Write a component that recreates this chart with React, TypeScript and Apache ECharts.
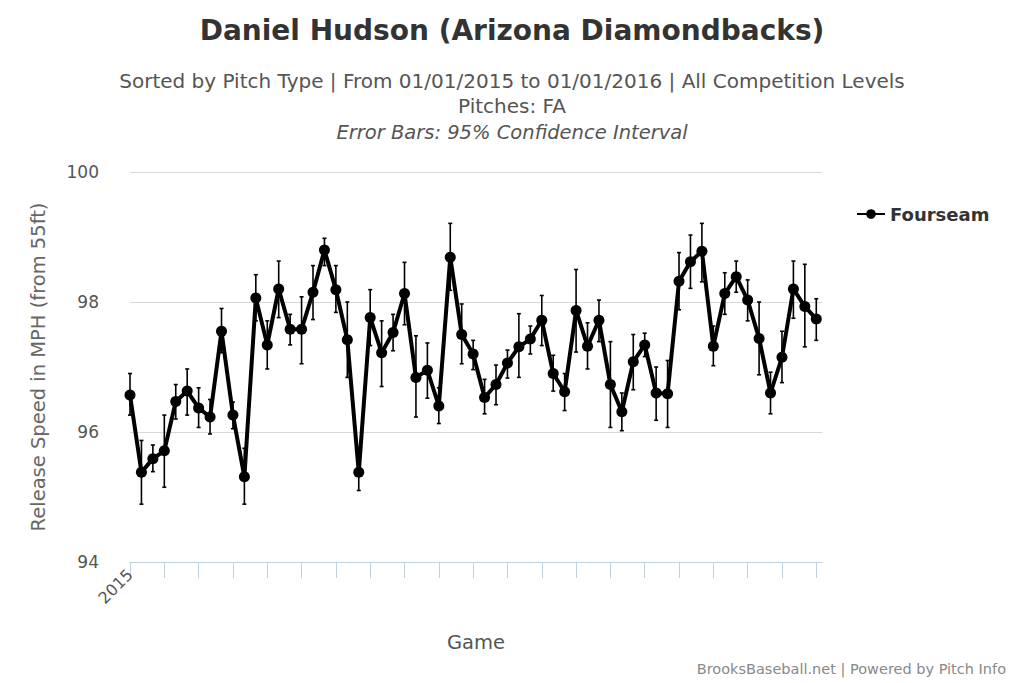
import React, { useEffect, useRef } from "react";
import * as echarts from "echarts";

const FONT = "'DejaVu Sans', sans-serif";

const speeds = [
  96.57, 95.38, 95.59, 95.71, 96.47, 96.63, 96.37, 96.23, 97.55, 96.26,
  95.31, 98.06, 97.34, 98.2, 97.58, 97.58, 98.15, 98.8, 98.19, 97.42,
  95.38, 97.76, 97.22, 97.53, 98.13, 96.84, 96.95, 96.4, 98.69, 97.5,
  97.2, 96.53, 96.73, 97.06, 97.31, 97.43, 97.72, 96.9, 96.62, 97.87,
  97.32, 97.72, 96.73, 96.31, 97.08, 97.34, 96.6, 96.59, 98.32, 98.62,
  98.78, 97.32, 98.13, 98.39, 98.03, 97.44, 96.6, 97.15, 98.2, 97.93, 97.74,
];

const uppers = [
  96.9, 95.87, 95.8, 96.26, 96.73, 96.97, 96.68, 96.5, 97.9, 96.46,
  95.75, 98.42, 97.71, 98.63, 97.81, 98.08, 98.56, 98.98, 98.56, 98.0,
  95.65, 98.19, 97.71, 97.81, 98.61, 97.48, 97.37, 96.68, 99.21, 97.97,
  97.41, 96.81, 97.03, 97.26, 97.82, 97.63, 98.1, 97.18, 96.9, 98.5,
  97.68, 98.03, 97.39, 96.6, 97.5, 97.52, 97.0, 97.1, 98.76, 99.03,
  99.21, 97.63, 98.45, 98.63, 98.34, 98.0, 96.92, 97.55, 98.63, 98.58, 98.05,
];

const lowers = [
  96.26, 94.89, 95.39, 95.15, 96.2, 96.26, 96.07, 95.97, 97.22, 96.05,
  94.89, 97.71, 96.97, 97.76, 97.34, 97.05, 97.73, 98.56, 97.84, 96.84,
  95.1, 97.33, 96.7, 97.25, 97.65, 96.23, 96.52, 96.13, 98.18, 97.05,
  96.96, 96.28, 96.42, 96.83, 96.84, 97.2, 97.33, 96.63, 96.33, 97.23,
  96.97, 97.39, 96.07, 96.02, 96.65, 97.16, 96.18, 96.07, 97.88, 98.21,
  98.31, 97.02, 97.81, 98.15, 97.71, 96.88, 96.28, 96.76, 97.75, 97.31, 97.41,
];

const firstTickLabel = "2015";
const seriesName = "Fourseam";
const titleText = "Daniel Hudson (Arizona Diamondbacks)";
const subtitleLines = [
  "Sorted by Pitch Type | From 01/01/2015 to 01/01/2016 | All Competition Levels",
  "Pitches: FA",
];
const errorNote = "Error Bars: 95% Confidence Interval";
const yAxisName = "Release Speed in MPH (from 55ft)";
const xAxisName = "Game";
const creditText = "BrooksBaseball.net | Powered by Pitch Info";

export default function App() {
  const ref = useRef<HTMLDivElement>(null);

  useEffect(() => {
    if (!ref.current) return;
    const chart = echarts.init(ref.current, null, { renderer: "svg" });

    const lineData = speeds.map((v, i) => [i, v]);
    const errData = speeds.map((_, i) => [i, lowers[i], uppers[i]]);

    chart.setOption({
      animation: false,
      backgroundColor: "#ffffff",
      textStyle: { fontFamily: FONT },
      title: [
        {
          text: titleText,
          left: "center",
          top: 11,
          textStyle: { fontFamily: FONT, fontSize: 28, fontWeight: "bold", color: "#333333" },
        },
        {
          text: subtitleLines[0],
          left: "center",
          top: 66,
          textStyle: { fontFamily: FONT, fontSize: 20, fontWeight: "normal", color: "#555555" },
        },
        {
          text: subtitleLines[1],
          left: "center",
          top: 91,
          textStyle: { fontFamily: FONT, fontSize: 20, fontWeight: "normal", color: "#555555" },
        },
        {
          text: errorNote,
          left: "center",
          top: 117,
          textStyle: { fontFamily: FONT, fontSize: 19.5, fontWeight: "normal", fontStyle: "italic", color: "#555555" },
        },
        {
          text: creditText,
          right: 13,
          top: 656,
          textStyle: { fontFamily: FONT, fontSize: 14.5, fontWeight: "normal", color: "#888888" },
        },
      ],
      legend: {
        left: 851,
        top: 200,
        itemWidth: 28,
        itemHeight: 12,
        itemGap: 8,
        textStyle: { fontFamily: FONT, fontSize: 18, fontWeight: "bold", color: "#333333" },
        data: [seriesName],
      },
      grid: { left: 130, right: 202, top: 172, bottom: 121, containLabel: false },
      xAxis: {
        type: "value",
        min: 0,
        max: 60.5,
        interval: 3,
        name: xAxisName,
        nameLocation: "middle",
        nameGap: 70,
        nameTextStyle: { fontFamily: FONT, fontSize: 19.5, color: "#555555" },
        axisLine: { show: true, lineStyle: { color: "#c0d0e0", width: 1 } },
        axisTick: { show: true, length: 16, lineStyle: { color: "#c0d0e0", width: 1 } },
        splitLine: { show: false },
        axisLabel: {
          rotate: 45,
          margin: 10,
          fontFamily: FONT,
          fontSize: 16,
          color: "#555555",
          showMaxLabel: false,
          formatter: (v: number) => (v === 0 ? firstTickLabel : ""),
        },
      },
      yAxis: {
        type: "value",
        min: 94,
        max: 100,
        interval: 2,
        name: yAxisName,
        nameLocation: "middle",
        nameGap: 82,
        nameTextStyle: { fontFamily: FONT, fontSize: 19.5, color: "#666666" },
        axisLine: { show: false },
        axisTick: { show: false },
        splitLine: { lineStyle: { color: "#d8d8d8", width: 1 } },
        axisLabel: { fontFamily: FONT, fontSize: 17, color: "#555555", margin: 31 },
      },
      series: [
        {
          type: "custom",
          name: "errors",
          data: errData,
          z: 1,
          renderItem: (params: any, api: any) => {
            const x = api.value(0);
            const lo = api.coord([x, api.value(1)]);
            const hi = api.coord([x, api.value(2)]);
            const w = 2;
            const style = { stroke: "#000000", lineWidth: 1.6 };
            return {
              type: "group",
              children: [
                { type: "line", shape: { x1: lo[0], y1: lo[1], x2: hi[0], y2: hi[1] }, style },
                { type: "line", shape: { x1: hi[0] - w, y1: hi[1], x2: hi[0] + w, y2: hi[1] }, style },
                { type: "line", shape: { x1: lo[0] - w, y1: lo[1], x2: lo[0] + w, y2: lo[1] }, style },
              ],
            };
          },
        },
        {
          type: "line",
          name: seriesName,
          data: lineData,
          z: 2,
          symbol: "circle",
          symbolSize: 11,
          itemStyle: { color: "#000000" },
          lineStyle: { color: "#000000", width: 4 },
        },
      ],
    });

    return () => chart.dispose();
  }, []);

  return (
    <div
      ref={ref}
      style={{ position: "absolute", left: 0, top: 0, width: 1024, height: 683, background: "#fff" }}
    />
  );
}
